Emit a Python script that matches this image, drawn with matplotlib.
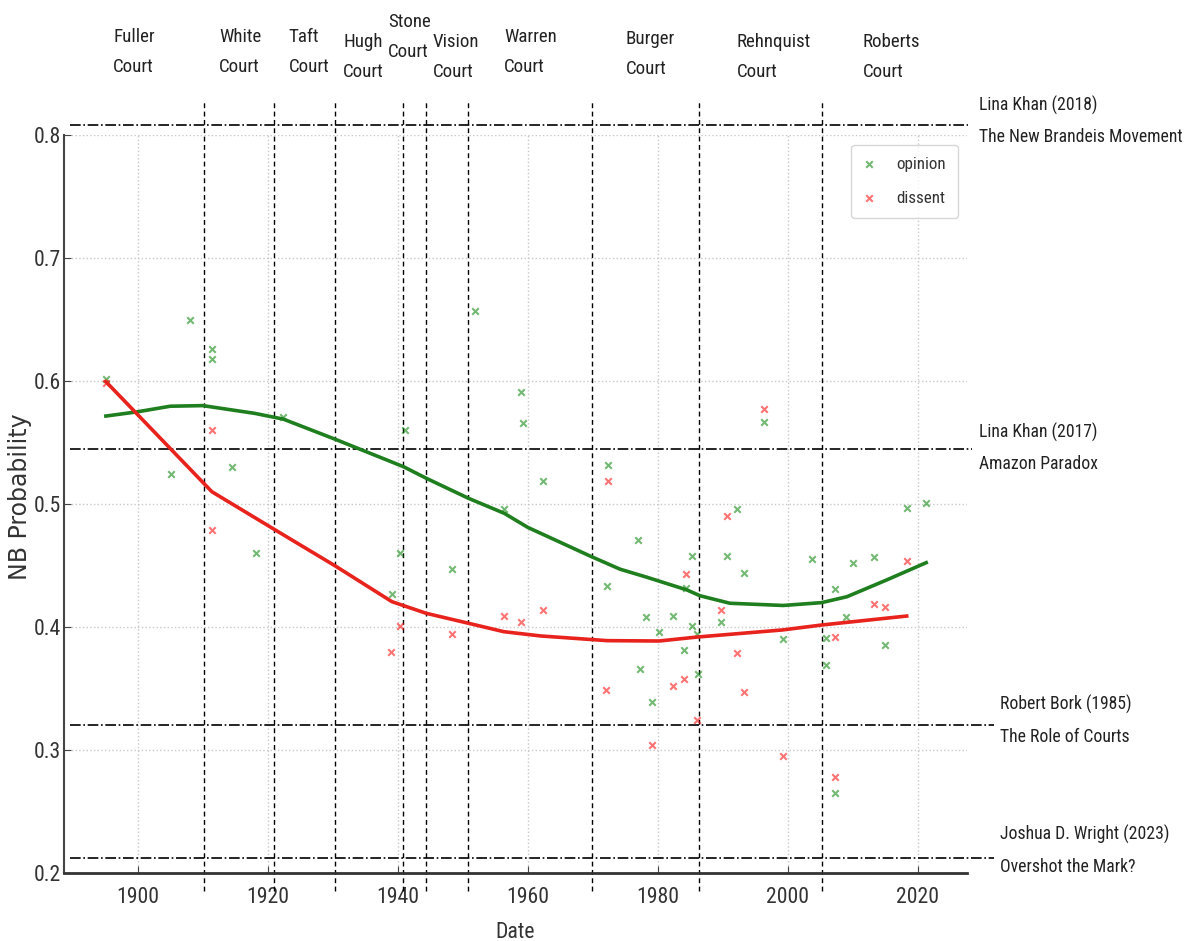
"""
NB probability of Supreme Court opinions and dissents over time,
with court eras and reference scholarship marked.
"""

import matplotlib

matplotlib.use("Agg")
import matplotlib.pyplot as plt
from matplotlib import font_manager
from matplotlib.font_manager import FontProperties
from matplotlib.textpath import TextPath


OUTPUT_PATH = "out.png"
DPI = 100

# Individual cases: decision year and NB probability.
OPINION_YEARS = [
    1895.1, 1905.1, 1908.0, 1911.4, 1911.4, 1914.5, 1918.2, 1922.4,
    1939.1, 1940.4, 1941.1, 1948.3, 1951.9, 1956.4, 1958.9, 1959.2,
    1962.4, 1972.2, 1972.3, 1976.9, 1977.3, 1978.2, 1979.1, 1980.2,
    1982.3, 1984.1, 1984.4, 1985.3, 1985.3, 1986.0, 1986.2, 1989.8,
    1990.7, 1992.2, 1993.3, 1996.3, 1999.2, 2003.8, 2005.9, 2005.9,
    2007.2, 2007.3, 2008.9, 2010.1, 2013.3, 2015.0, 2018.3, 2021.3,
]
OPINION_PROBS = [
    0.602, 0.524, 0.650, 0.626, 0.618, 0.530, 0.460, 0.571,
    0.427, 0.460, 0.560, 0.447, 0.657, 0.496, 0.591, 0.566,
    0.519, 0.433, 0.532, 0.471, 0.366, 0.408, 0.339, 0.396,
    0.409, 0.381, 0.432, 0.458, 0.401, 0.394, 0.362, 0.404,
    0.458, 0.496, 0.444, 0.567, 0.390, 0.455, 0.391, 0.369,
    0.431, 0.265, 0.408, 0.452, 0.457, 0.385, 0.497, 0.501,
]

DISSENT_YEARS = [
    1895.1, 1911.4, 1911.4, 1939.0, 1940.4, 1948.3, 1956.3, 1958.9,
    1962.4, 1972.0, 1972.3, 1979.1, 1982.3, 1984.1, 1984.4, 1986.0,
    1989.8, 1990.7, 1992.2, 1993.3, 1996.3, 1999.2, 2007.2, 2007.3,
    2013.3, 2015.0, 2018.3,
]
DISSENT_PROBS = [
    0.598, 0.560, 0.479, 0.380, 0.401, 0.394, 0.409, 0.404,
    0.414, 0.349, 0.519, 0.304, 0.352, 0.358, 0.443, 0.324,
    0.414, 0.490, 0.379, 0.347, 0.577, 0.295, 0.392, 0.278,
    0.419, 0.416, 0.454,
]

# Smoothed trends.
OPINION_TREND_YEARS = [
    1895.1, 1900.0, 1905.0, 1910.0, 1918.0, 1922.4, 1930.4, 1940.9,
    1944.4, 1950.9, 1956.4, 1960.0, 1969.8, 1974.2, 1978.3, 1984.5,
    1986.5, 1991.1, 1999.3, 2005.2, 2009.1, 2015.2, 2021.3,
]
OPINION_TREND_PROBS = [
    0.5715, 0.575, 0.5795, 0.580, 0.5737, 0.569, 0.5526, 0.5303,
    0.5209, 0.5046, 0.4924, 0.481, 0.4572, 0.4470, 0.4405, 0.4301,
    0.4254, 0.4193, 0.4175, 0.4198, 0.4246, 0.4382, 0.4523,
]
DISSENT_TREND_YEARS = [
    1895.1, 1911.4, 1921.0, 1930.4, 1939.1, 1944.4, 1950.9, 1956.3,
    1962.0, 1972.2, 1980.2, 1986.0, 1999.2, 2005.2, 2018.3,
]
DISSENT_TREND_PROBS = [
    0.5995, 0.510, 0.4794, 0.4496, 0.4206, 0.4111, 0.403, 0.3962,
    0.3927, 0.3889, 0.3886, 0.3918, 0.3976, 0.4016, 0.4089,
]

# Court eras.
COURT_NAMES = [
    "Fuller", "White", "Taft", "Hugh", "Stone", "Vision",
    "Warren", "Burger", "Rehnquist", "Roberts",
]
COURT_START_YEARS = [1910.2, 1921.0, 1930.4, 1940.8, 1944.3, 1950.8, 1969.9, 1986.3, 2005.3]

# Reference works.
REFERENCE_LABELS = [
    "Lina Khan (2018)\nThe New Brandeis Movement",
    "Lina Khan (2017)\nAmazon Paradox",
    "Robert Bork (1985)\nThe Role of Courts",
    "Joshua D. Wright (2023)\nOvershot the Mark?",
]
REFERENCE_VALUES = [0.808, 0.545, 0.320, 0.212]

# Label placement (layout only).
COURT_LABEL_X = [1896.2, 1912.5, 1923.2, 1931.6, 1938.5, 1945.4, 1956.4, 1975.1, 1992.1, 2011.5]
COURT_LABEL_Y = [0.8675, 0.8675, 0.8675, 0.8635, 0.880, 0.8635, 0.8675, 0.866, 0.8635, 0.8635]
REFERENCE_TEXT_X = [2029.4, 2029.4, 2032.7, 2032.7]
REFERENCE_TEXT_Y = [0.8115, 0.5455, 0.324, 0.2183]
REFERENCE_LINE_END = [1.001, 1.006, 1.030, 1.030]


def narrow_font() -> dict:
    """Pick a condensed sans face if one is installed, else DejaVu Sans."""
    fonts = font_manager.fontManager.ttflist
    names = {f.name for f in fonts}
    for name in ("Liberation Sans Narrow", "Roboto Condensed", "Open Sans Condensed",
                 "Noto Sans Condensed", "DejaVu Sans Condensed", "Arial Narrow"):
        if name in names:
            return {"family": name, "stretch": "normal"}
    for f in fonts:
        if f.name in ("DejaVu Sans", "Noto Sans", "Open Sans", "Roboto") and \
                f.stretch in ("condensed", "semi-condensed") and f.style == "normal":
            return {"family": f.name, "stretch": f.stretch}
    return {"family": "DejaVu Sans", "stretch": "normal"}


FONT = narrow_font()


def fit_size(sample: str, width_px: float) -> float:
    """Font size (pt) that makes sample about width_px wide."""
    prop = FontProperties(family=FONT["family"], stretch=FONT["stretch"])
    ext = TextPath((0, 0), sample, size=100, prop=prop).get_extents()
    return width_px * 72 / DPI * 100 / ext.width


def create_chart() -> None:
    tick_size = fit_size("1900", 40)
    court_size = fit_size("Rehnquist", 72)
    note_size = fit_size("The New Brandeis Movement", 202)
    legend_size = fit_size("opinion", 48)
    font_kw = {"family": FONT["family"], "fontstretch": FONT["stretch"]}

    fig = plt.figure(figsize=(11.9, 9.41), dpi=DPI)
    ax = fig.add_axes([0.0538, 0.0723, 0.7586, 0.7842])

    ax.set_xlim(1888.66, 2027.54)
    ax.set_ylim(0.2, 0.8)
    ax.set_xticks([1900, 1920, 1940, 1960, 1980, 2000, 2020])
    ax.set_yticks([0.2, 0.3, 0.4, 0.5, 0.6, 0.7, 0.8])
    ax.grid(True, linestyle=":", color="#c8c8c8", linewidth=1.0)
    ax.set_axisbelow(True)

    for side in ("top", "right"):
        ax.spines[side].set_visible(False)
    ax.spines["left"].set_color("#444444")
    ax.spines["left"].set_linewidth(1.5)
    ax.spines["bottom"].set_color("#333333")
    ax.spines["bottom"].set_linewidth(2.0)
    ax.tick_params(direction="in", length=5, color="#444444", labelcolor="#333333")
    ax.tick_params(axis="y", pad=2)
    ax.tick_params(axis="x", pad=10)
    for label in ax.get_xticklabels() + ax.get_yticklabels():
        label.set_fontfamily(FONT["family"])
        label.set_fontstretch(FONT["stretch"])
        label.set_fontsize(tick_size)

    ax.scatter(OPINION_YEARS, OPINION_PROBS, marker="x", s=22, linewidths=1.5,
               color="green", alpha=0.55, label="opinion", zorder=3)
    ax.scatter(DISSENT_YEARS, DISSENT_PROBS, marker="x", s=22, linewidths=1.5,
               color="red", alpha=0.55, label="dissent", zorder=3)

    ax.plot(OPINION_TREND_YEARS, OPINION_TREND_PROBS, color="#1f7f1f", linewidth=2.6, zorder=4)
    ax.plot(DISSENT_TREND_YEARS, DISSENT_TREND_PROBS, color="#e8221c", linewidth=2.6, zorder=4)

    # Court boundaries run past the plot area.
    for year in COURT_START_YEARS:
        ax.axvline(year, ymin=-0.025, ymax=1.047, color="black", linestyle=(0, (3.5, 2.5)),
                   linewidth=1.0, clip_on=False, zorder=2)

    court_px = court_size * DPI / 72
    for name, x, y in zip(COURT_NAMES, COURT_LABEL_X, COURT_LABEL_Y):
        ax.text(x, y, f"{name}\nCourt", ha="left", va="center", fontsize=court_size,
                color="#222222", linespacing=1.11 * 30 / (0.96 * court_px), clip_on=False,
                **font_kw)

    note_px = note_size * DPI / 72
    for label, value, tx, ty, xend in zip(REFERENCE_LABELS, REFERENCE_VALUES,
                                          REFERENCE_TEXT_X, REFERENCE_TEXT_Y,
                                          REFERENCE_LINE_END):
        ax.axhline(value, xmin=0.0066, xmax=xend, color="black", linestyle="-.",
                   linewidth=1.2, clip_on=False, zorder=2)
        ax.text(tx, ty, label, ha="left", va="center", fontsize=note_size,
                color="#222222", linespacing=1.067 * 31 / (0.96 * note_px), clip_on=False,
                **font_kw)

    ax.set_xlabel("Date", fontsize=tick_size, color="#333333", labelpad=10, **font_kw)
    ax.set_ylabel("NB Probability", fontsize=17, family="DejaVu Sans", color="#333333")
    ax.yaxis.set_label_coords(-0.036, 0.51)

    legend = ax.legend(loc="upper right", bbox_to_anchor=(0.9904, 0.9865),
                       borderaxespad=0.0,
                       prop={"family": FONT["family"], "stretch": FONT["stretch"],
                             "size": legend_size},
                       frameon=True, handlelength=0.7, handletextpad=1.25,
                       labelspacing=1.1, borderpad=0.7)
    legend.get_frame().set_edgecolor("#cccccc")
    legend.get_frame().set_linewidth(1.0)
    for text in legend.get_texts():
        text.set_color("#333333")

    fig.savefig(OUTPUT_PATH, dpi=DPI)
    plt.close(fig)


def main() -> None:
    create_chart()


if __name__ == "__main__":
    main()
